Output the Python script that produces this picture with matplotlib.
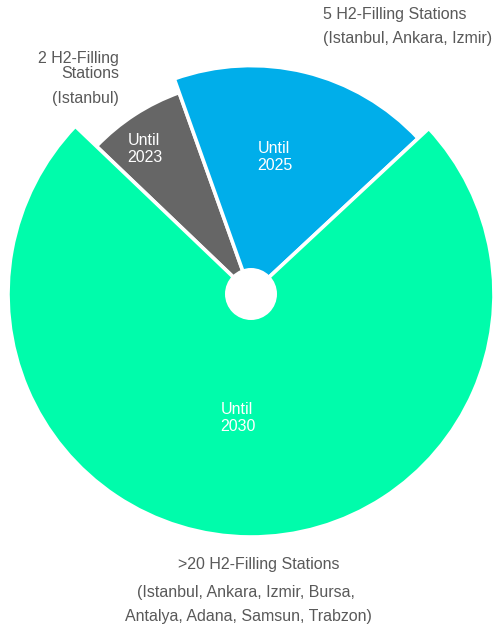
import matplotlib
matplotlib.use('Agg')
import matplotlib.pyplot as plt
from matplotlib.patches import Circle

plt.rcParams['font.family'] = ['Liberation Sans', 'DejaVu Sans']

# stations per stage; each wedge gets its own radius share
periods = ['Until\n2023', 'Until\n2025', 'Until\n2030']
stations = [2, 5, 20]
radius_share = [0.88, 0.94, 1.0]
colors = ['#666666', '#00AEEA', '#00FCAB']

note_2023 = ['2 H2-Filling\nStations', '(Istanbul)']
note_2025 = ['5 H2-Filling Stations', '(Istanbul, Ankara, Izmir)']
note_2030 = ['>20 H2-Filling Stations',
             '(Istanbul, Ankara, Izmir, Bursa,',
             'Antalya, Adana, Samsun, Trabzon)']

W, H = 493, 626
cx, cy, R = 251, H - 294, 243

fig = plt.figure(figsize=(W / 100, H / 100), dpi=100)
ax = fig.add_axes([0, 0, 1, 1])

wedges, _ = ax.pie(stations, colors=colors, startangle=136.3, counterclock=False,
                   center=(cx, cy), radius=R,
                   wedgeprops=dict(edgecolor='white', linewidth=2.6))
for w, s in zip(wedges, radius_share):
    w.set_radius(R * s)

# white hole in the middle
ax.add_patch(Circle((cx, cy), 26, facecolor='white', edgecolor='none', zorder=5))

ax.set_xlim(0, W)
ax.set_ylim(0, H)
ax.set_aspect('equal')
ax.axis('off')

fs = 11.5
txt = '#595959'

def put(x, y, s, **kw):
    ax.text(x, H - y, s, fontsize=fs, **kw)

# labels inside the wedges
inner_pos = [(145, 149), (275, 157), (238, 418)]
for (x, y), p in zip(inner_pos, periods):
    put(x, y, p, color='white', ha='center', va='center', multialignment='left',
        linespacing=1.2)

# notes around the chart
put(119, 66, note_2023[0], color=txt, ha='right', va='center', linespacing=0.95)
put(119, 99, note_2023[1], color=txt, ha='right', va='center')
put(323, 15, note_2025[0], color=txt, ha='left', va='center')
put(323, 38, note_2025[1], color=txt, ha='left', va='center')
for (x, y), s in zip([(259, 565), (246, 592), (248, 617)], note_2030):
    put(x, y, s, color=txt, ha='center', va='center')

fig.savefig('out.png', dpi=100)
